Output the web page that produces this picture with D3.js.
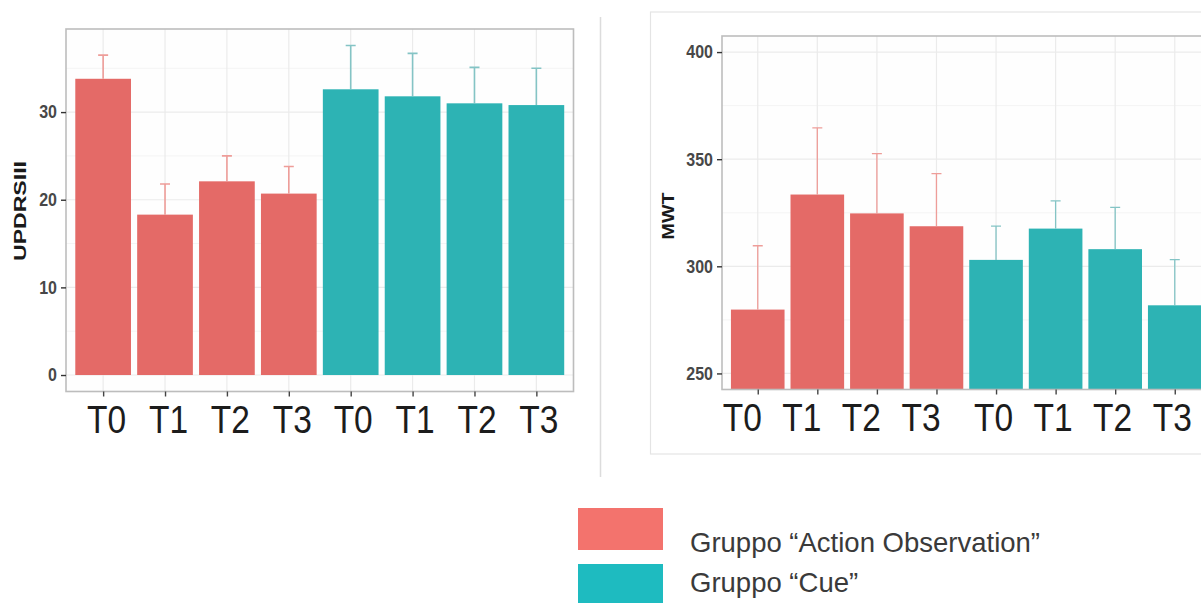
<!DOCTYPE html>
<html>
<head>
<meta charset="utf-8">
<script src="https://cdn.jsdelivr.net/npm/d3@7/dist/d3.min.js"></script>
<style>
  html, body { margin: 0; padding: 0; background: #ffffff; }
  svg { display: block; font-family: "Liberation Sans", Arial, sans-serif; }
</style>
</head>
<body>
<svg id="chart" width="1201" height="603"></svg>
<script>
// Time points and groups
const timepoints = ['T0', 'T1', 'T2', 'T3'];
const groups = ['Gruppo \u201CAction Observation\u201D', 'Gruppo \u201CCue\u201D'];

// UPDRS III: means and standard deviations per group
const updrsAO = [33.8, 18.3, 22.1, 20.7];
const updrsAOsd = [2.7, 3.5, 2.9, 3.1];
const updrsCue = [32.6, 31.8, 31.0, 30.8];
const updrsCueSd = [5.0, 4.9, 4.1, 4.2];
const updrsTicks = [0, 10, 20, 30];

// MWT: means and standard deviations per group
const mwtAO = [279.8, 333.5, 324.7, 318.7];
const mwtAOsd = [29.8, 31.1, 27.9, 24.6];
const mwtCue = [303.0, 317.6, 308.0, 281.8];
const mwtCueSd = [15.8, 12.9, 19.5, 21.3];
const mwtTicks = [250, 300, 350, 400];
const mwtLimits = [250, 400];

const barColors = ['#E46A67', '#2DB3B4'];
const errColors = ['#EE9D99', '#84C4C5'];
const legendColors = ['#F3736D', '#1EBBC0'];

const svg = d3.select('#chart');

// Build the 8-bar table (4 time points x 2 groups)
function rows(a, aSd, c, cSd) {
  const out = [];
  timepoints.forEach((t, i) => out.push({ key: 'a' + i, label: t, g: 0, v: a[i], sd: aSd[i] }));
  timepoints.forEach((t, i) => out.push({ key: 'c' + i, label: t, g: 1, v: c[i], sd: cSd[i] }));
  return out;
}

function panel(cfg) {
  const data = cfg.data;
  const g = svg.append('g');
  const x = d3.scalePoint().domain(data.map(d => d.key)).range([cfg.left, cfg.right]).padding(0.6);
  const step = x.step();
  const y = d3.scaleLinear().domain(cfg.domain).range([cfg.bottom, cfg.top]);

  const clipId = 'clip-' + cfg.id;
  g.append('clipPath').attr('id', clipId)
    .append('rect').attr('x', cfg.left).attr('y', cfg.top)
    .attr('width', cfg.right - cfg.left).attr('height', cfg.bottom - cfg.top);

  g.append('rect').attr('x', cfg.left).attr('y', cfg.top)
    .attr('width', cfg.right - cfg.left).attr('height', cfg.bottom - cfg.top)
    .attr('fill', '#fefefe');

  const grid = g.append('g').attr('clip-path', `url(#${clipId})`);
  // minor horizontal grid
  grid.selectAll('line.minor').data(cfg.minor).join('line')
    .attr('x1', cfg.left).attr('x2', cfg.right)
    .attr('y1', d => y(d)).attr('y2', d => y(d))
    .attr('stroke', '#f4f4f4').attr('stroke-width', 1);
  // major horizontal grid
  grid.selectAll('line.major').data(cfg.ticks).join('line')
    .attr('x1', cfg.left).attr('x2', cfg.right)
    .attr('y1', d => y(d)).attr('y2', d => y(d))
    .attr('stroke', '#ebebeb').attr('stroke-width', 1.2);
  // vertical grid at categories
  grid.selectAll('line.vx').data(data).join('line')
    .attr('x1', d => x(d.key)).attr('x2', d => x(d.key))
    .attr('y1', cfg.top).attr('y2', cfg.bottom)
    .attr('stroke', '#ebebeb').attr('stroke-width', 1.2);

  const marks = g.append('g').attr('clip-path', `url(#${clipId})`);
  const barW = step * 0.9;
  marks.selectAll('rect.bar').data(data).join('rect')
    .attr('x', d => x(d.key) - barW / 2)
    .attr('width', barW)
    .attr('y', d => y(d.v))
    .attr('height', d => y(cfg.baseline) - y(d.v))
    .attr('fill', d => barColors[d.g]);

  // error bars (mean to mean + sd)
  const capW = 10;
  const eb = marks.selectAll('g.eb').data(data).join('g')
    .attr('stroke', d => errColors[d.g]).attr('stroke-width', cfg.errWidth);
  eb.append('line')
    .attr('x1', d => x(d.key)).attr('x2', d => x(d.key))
    .attr('y1', d => y(d.v)).attr('y2', d => y(d.v + d.sd));
  eb.append('line')
    .attr('x1', d => x(d.key) - capW / 2).attr('x2', d => x(d.key) + capW / 2)
    .attr('y1', d => y(d.v + d.sd)).attr('y2', d => y(d.v + d.sd));

  // panel border
  g.append('rect').attr('x', cfg.left).attr('y', cfg.top)
    .attr('width', cfg.right - cfg.left).attr('height', cfg.bottom - cfg.top)
    .attr('fill', 'none').attr('stroke', '#bdbdbd').attr('stroke-width', 1.6);

  // y axis
  const yAxis = g.append('g').attr('transform', `translate(${cfg.left},0)`)
    .call(d3.axisLeft(y).tickValues(cfg.ticks).tickSize(5).tickPadding(4));
  yAxis.select('.domain').remove();
  yAxis.selectAll('.tick line').attr('stroke', '#333').attr('stroke-width', 1.4);
  yAxis.selectAll('.tick text')
    .attr('fill', '#474747').attr('font-size', cfg.yTickSize).attr('font-weight', 'bold')
    .attr('font-family', '"Liberation Sans", Arial, sans-serif')
    .attr('dy', '0.32em')
    .attr('transform', 'scale(1,1.15)');

  // x axis
  const xAxis = g.append('g').attr('transform', `translate(0,${cfg.bottom})`)
    .call(d3.axisBottom(x).tickSize(5).tickPadding(0).tickFormat(k => data.find(d => d.key === k).label));
  xAxis.select('.domain').remove();
  xAxis.selectAll('.tick line').attr('stroke', '#444').attr('stroke-width', 1.4);
  xAxis.selectAll('.tick text')
    .attr('fill', '#1c1c1c').attr('font-size', 39)
    .attr('font-family', '"Liberation Sans", Arial, sans-serif')
    .attr('y', 42).attr('dy', 0)
    .attr('transform', (k, i) => `translate(${i < 4 ? cfg.shiftA : cfg.shiftC},0)scale(0.86,1)`);

  // axis title
  svg.append('text')
    .attr('transform', `translate(${cfg.titleX},${cfg.titleY})rotate(-90)`)
    .attr('text-anchor', 'middle').attr('dy', '0.35em')
    .attr('font-size', 17).attr('font-weight', 'bold').attr('fill', '#1a1a1a')
    .attr('textLength', cfg.titleLen).attr('lengthAdjust', 'spacingAndGlyphs')
    .text(cfg.title);
}

// separator between the two plots
svg.append('line').attr('x1', 600.5).attr('x2', 600.5).attr('y1', 17).attr('y2', 477)
  .attr('stroke', '#dcdcdc').attr('stroke-width', 1.5);
// frame of the right plot
svg.append('rect').attr('x', 650.5).attr('y', 12).attr('width', 600).attr('height', 442)
  .attr('fill', 'none').attr('stroke', '#e4e4e4').attr('stroke-width', 1.2);

const updrsRows = rows(updrsAO, updrsAOsd, updrsCue, updrsCueSd);
const updrsMax = d3.max(updrsRows, d => d.v + d.sd);
panel({
  id: 'updrs',
  data: updrsRows,
  left: 66, right: 573.5, top: 29, bottom: 391.5,
  domain: [-0.05 * updrsMax, 1.05 * updrsMax],
  baseline: 0,
  ticks: updrsTicks, minor: [5, 15, 25, 35],
  yTickSize: 16, errWidth: 1.6,
  shiftA: 3, shiftC: 2,
  title: 'UPDRSIII', titleX: 20.5, titleY: 211, titleLen: 100
});

const mwtPad = 0.05 * (mwtLimits[1] - mwtLimits[0]);
panel({
  id: 'mwt',
  data: rows(mwtAO, mwtAOsd, mwtCue, mwtCueSd),
  left: 722, right: 1210.5, top: 36, bottom: 389.5,
  domain: [mwtLimits[0] - mwtPad, mwtLimits[1] + mwtPad],
  baseline: mwtLimits[0] - mwtPad,
  ticks: mwtTicks, minor: [275, 325, 375],
  yTickSize: 16, errWidth: 1.3,
  shiftA: -16, shiftC: -3,
  title: 'MWT', titleX: 668, titleY: 216, titleLen: 47
});

// legend
const legend = svg.append('g');
const legendY = [508, 564];
legend.selectAll('rect').data(groups).join('rect')
  .attr('x', 578).attr('y', (d, i) => legendY[i])
  .attr('width', 85).attr('height', 42)
  .attr('fill', (d, i) => legendColors[i]);
legend.selectAll('text').data(groups).join('text')
  .attr('x', 690).attr('y', (d, i) => legendY[i] + 44 - i * 16)
  .attr('font-size', 27.5).attr('fill', '#3a3a3a')
  .text(d => d);
</script>
</body>
</html>
